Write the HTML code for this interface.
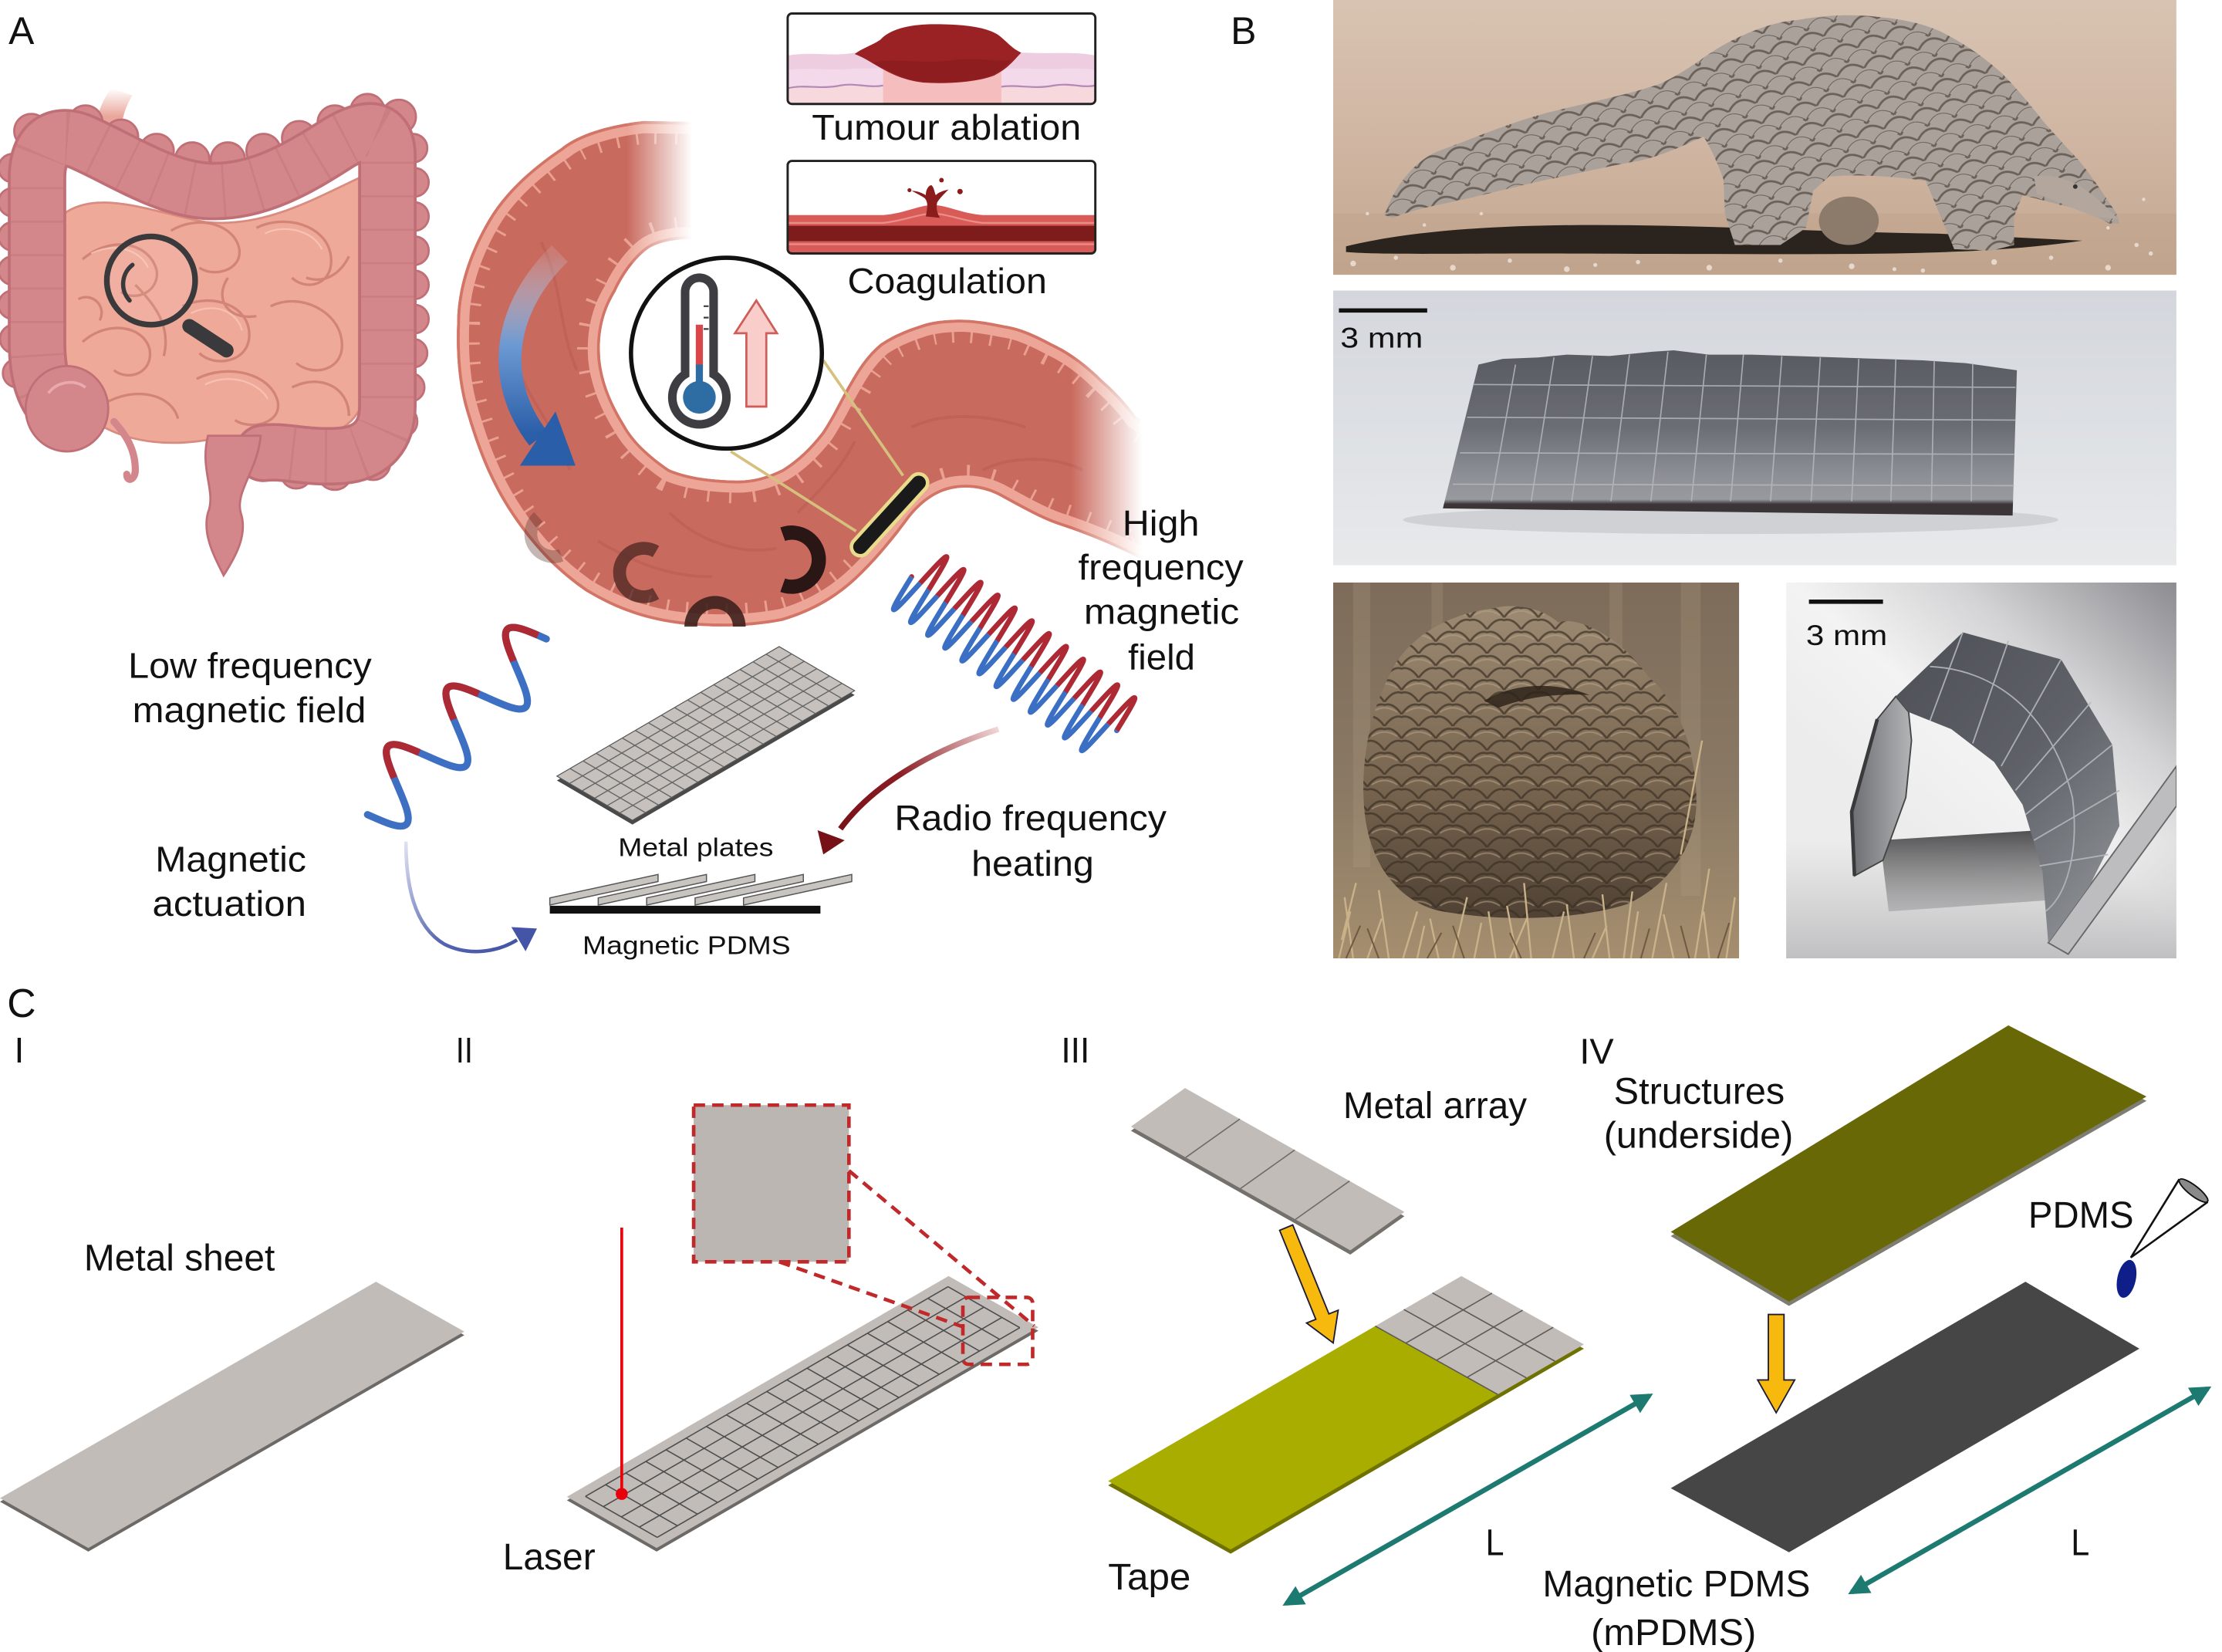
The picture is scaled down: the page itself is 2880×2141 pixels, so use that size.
<!DOCTYPE html>
<html><head><meta charset="utf-8"><style>html,body{margin:0;padding:0;background:#fff;}svg{display:block}</style></head>
<body>
<svg width="2880" height="2141" viewBox="0 0 1560 1160" preserveAspectRatio="none" xmlns="http://www.w3.org/2000/svg" font-family="'Liberation Sans', Arial, sans-serif">
<defs>
<path id="tubeShape" d="M 505,86 L 452,85 C 425,88 405,95 394,104 C 370,120 352,138 342,156 C 328,180 321,205 321,226 C 320,250 322,272 328,291 C 336,318 345,340 359,361 C 375,385 392,402 411,415 C 432,428 455,436 480,438.5 C 505,441 528,440 549,436 C 570,430 587,420 601,407 C 615,394 628,378 639,363 C 648,352 658,345 670,343 C 683,341 695,344 705,350 C 718,357 730,364 743,368.5 C 760,374 780,382 800,392 L 850,372 L 840,325 C 825,312 810,300 798,293 C 790,282 782,274 774,267 C 763,256 751,247 739,241.5 C 727,235 716,230 705,228.5 C 693,226 681,224 670,224.6 C 660,225 653,226 646,228.5 C 635,232 626,236 618,241.5 C 609,249 603,258 597.6,267.4 C 590,280 585,292 577,303.7 C 569,314 560,323 549,329.6 C 538,335 527,338 515,337.4 C 498,337 483,335 470,329.6 C 456,320 445,310 438.7,298.5 C 429,283 423,268 421.4,252 C 420,233 424,218 432,205 C 438,192 447,180 456,174 C 463,170 470,169 478,168 L 510,168 Z"/>
<clipPath id="tubeClip"><use href="#tubeShape"/></clipPath>
<linearGradient id="fadeTop" gradientUnits="userSpaceOnUse" x1="440" y1="0" x2="486" y2="0"><stop offset="0" stop-color="#fff" stop-opacity="0"/><stop offset="1" stop-color="#fff" stop-opacity="1"/></linearGradient>
<linearGradient id="fadeRight" gradientUnits="userSpaceOnUse" x1="752" y1="0" x2="802" y2="0"><stop offset="0" stop-color="#fff" stop-opacity="0"/><stop offset="1" stop-color="#fff" stop-opacity="1"/></linearGradient>
<linearGradient id="gBlueArr" gradientUnits="userSpaceOnUse" x1="0" y1="178" x2="0" y2="305"><stop offset="0" stop-color="#c9dcf2" stop-opacity="0.15"/><stop offset="0.5" stop-color="#6d9ad3"/><stop offset="1" stop-color="#2a5ea8"/></linearGradient>
<linearGradient id="gRF" gradientUnits="userSpaceOnUse" x1="701" y1="512" x2="585" y2="587"><stop offset="0" stop-color="#f2d6d6"/><stop offset="0.55" stop-color="#8a1c22"/><stop offset="1" stop-color="#761118"/></linearGradient>
<linearGradient id="gMA" gradientUnits="userSpaceOnUse" x1="285" y1="591" x2="365" y2="662"><stop offset="0" stop-color="#dfe2f3"/><stop offset="0.6" stop-color="#5565b0"/><stop offset="1" stop-color="#4454a6"/></linearGradient>
<linearGradient id="gEso" x1="0" y1="0" x2="0" y2="1"><stop offset="0" stop-color="#fff"/><stop offset="0.5" stop-color="#e9a69a"/></linearGradient>
<path id="coilP" d="M0,0 C1.25,13.65 2.39,26 3.75,26 S6.25,13.65 7.5,0 S9.89,-26 11.25,-26 S13.75,-13.65 15,0"/>
<clipPath id="clipNeg"><rect x="-20" y="-40" width="230" height="40"/></clipPath>
<clipPath id="clipPos"><rect x="-20" y="0" width="230" height="40"/></clipPath>
<marker id="tealHead" viewBox="0 0 10 10" refX="8" refY="5" markerWidth="4.2" markerHeight="4.2" orient="auto-start-reverse" markerUnits="strokeWidth"><path d="M0,0 L10,5 L0,10 Z" fill="#1d7a70"/></marker>
<clipPath id="cp1"><rect x="936" y="0" width="592" height="193"/></clipPath>
<clipPath id="cp2"><rect x="936" y="204" width="592" height="193"/></clipPath>
<clipPath id="cp3"><rect x="936" y="409" width="285" height="264"/></clipPath>
<clipPath id="cp4"><rect x="1254" y="409" width="274" height="264"/></clipPath>
<linearGradient id="g1bg" x1="0" y1="0" x2="0" y2="1"><stop offset="0" stop-color="#d8c3b2"/><stop offset="0.55" stop-color="#cfb5a1"/><stop offset="1" stop-color="#c2a690"/></linearGradient>
<pattern id="pscale" width="20" height="15" patternUnits="userSpaceOnUse" patternTransform="rotate(-18)">
<rect width="20" height="15" fill="#aaa19a"/>
<path d="M0,7.5 Q10,-3 20,7.5 M-10,15 Q0,4.5 10,15 M10,15 Q20,4.5 30,15" fill="none" stroke="#6b6159" stroke-width="1.5"/>
<path d="M2,6 Q10,-1 18,6" fill="none" stroke="#c9c1b9" stroke-width="1" opacity="0.7"/>
</pattern>
<linearGradient id="g2bg" x1="0" y1="0" x2="0" y2="1"><stop offset="0" stop-color="#d3d6dc"/><stop offset="0.5" stop-color="#dde0e4"/><stop offset="1" stop-color="#e8e9eb"/></linearGradient>
<linearGradient id="g2m" gradientUnits="userSpaceOnUse" x1="0" y1="248" x2="0" y2="362"><stop offset="0" stop-color="#595b62"/><stop offset="0.45" stop-color="#6b6d74"/><stop offset="0.75" stop-color="#8c8f95"/><stop offset="0.9" stop-color="#989aa0"/><stop offset="0.93" stop-color="#3b3537"/><stop offset="1" stop-color="#3b3537"/></linearGradient>
<linearGradient id="g3bg" x1="0" y1="0" x2="0" y2="1"><stop offset="0" stop-color="#7d6c5a"/><stop offset="0.55" stop-color="#8a7964"/><stop offset="1" stop-color="#a48e6e"/></linearGradient>
<linearGradient id="g3ball" x1="0" y1="0" x2="0" y2="1"><stop offset="0" stop-color="#9d8a73"/><stop offset="0.55" stop-color="#7a6751"/><stop offset="1" stop-color="#4f4134"/></linearGradient>
<pattern id="bscale" width="24" height="17" patternUnits="userSpaceOnUse">
<path d="M0,8.5 Q6,0 12,2 Q18,0 24,8.5 M-12,17 Q-6,8.5 0,10.5 Q6,8.5 12,17 M12,17 Q18,8.5 24,10.5 Q30,8.5 36,17" fill="none" stroke="#3c3024" stroke-width="1.5" opacity="0.7"/>
<path d="M3,7 Q12,1 21,7" fill="none" stroke="#b9a488" stroke-width="1" opacity="0.55"/>
</pattern>
<linearGradient id="g4bg" gradientUnits="userSpaceOnUse" x1="1528" y1="409" x2="1360" y2="600"><stop offset="0" stop-color="#8c8c90"/><stop offset="0.4" stop-color="#d3d3d5"/><stop offset="0.7" stop-color="#f3f3f3"/><stop offset="1" stop-color="#ececec"/></linearGradient>
<linearGradient id="g4bot" x1="0" y1="0" x2="0" y2="1"><stop offset="0" stop-color="#c6c6c8" stop-opacity="0"/><stop offset="1" stop-color="#c0c0c2" stop-opacity="1"/></linearGradient>
<linearGradient id="g4sh" x1="0" y1="0" x2="0" y2="1"><stop offset="0" stop-color="#3e3e40" stop-opacity="0.9"/><stop offset="1" stop-color="#6a6a6c" stop-opacity="0.3"/></linearGradient>
<linearGradient id="g4arch" gradientUnits="userSpaceOnUse" x1="1330" y1="470" x2="1490" y2="620"><stop offset="0" stop-color="#4f5258"/><stop offset="0.5" stop-color="#5e6167"/><stop offset="1" stop-color="#8a8d92"/></linearGradient>
<linearGradient id="g4leg" gradientUnits="userSpaceOnUse" x1="1300" y1="0" x2="1342" y2="0"><stop offset="0" stop-color="#6d6e72"/><stop offset="1" stop-color="#b3b4b6"/></linearGradient>
</defs>

<rect x="0" y="0" width="1560" height="1160" fill="#fff"/>

<!-- ================= PANEL A: whole-intestine illustration ================= -->
<path d="M 66,102 C 66,86 70,73 78,62 L 93,67 C 86,78 84,90 86,102 Z" fill="url(#gEso)"/>
<path d="M 45,150 C 70,132 110,150 145,156 C 185,160 220,140 252,125 L 252,288 C 245,302 225,310 200,310 C 175,312 160,306 145,309 C 120,313 95,311 75,301 C 55,291 45,270 45,245 Z" fill="#efa999" stroke="#d98b7f" stroke-width="1.5"/>
<g fill="none" stroke="#d28476" stroke-width="1.8">
<path d="M 58,182 C 78,165 105,170 110,190 C 112,205 95,212 85,205"/>
<path d="M 120,162 C 140,150 165,158 168,175 C 170,190 150,195 140,188"/>
<path d="M 180,160 C 200,150 228,158 232,178 C 236,200 215,205 205,195"/>
<path d="M 58,240 C 75,225 100,228 105,245 C 108,262 90,268 80,260"/>
<path d="M 128,215 C 150,205 175,215 175,235 C 175,255 150,258 140,248"/>
<path d="M 190,215 C 210,205 238,218 240,240 C 242,260 220,265 208,255"/>
<path d="M 68,287 C 90,270 120,275 125,294"/>
<path d="M 138,266 C 160,255 190,262 195,282 C 198,298 175,302 165,295"/>
<path d="M 205,272 C 225,262 245,272 245,292"/>
<path d="M 95,200 C 110,215 120,230 115,250"/>
<path d="M 160,195 C 150,210 160,225 180,222"/>
<path d="M 55,210 C 65,205 75,215 70,225"/>
<path d="M 215,195 C 230,200 240,190 245,180"/>
</g>
<g fill="none" stroke="#f8c8ba" stroke-width="1.2" opacity="0.8">
<path d="M 64,178 C 80,170 98,175 104,188"/>
<path d="M 186,164 C 200,157 220,162 226,175"/>
<path d="M 134,220 C 150,212 166,218 170,232"/>
<path d="M 144,270 C 160,262 180,267 188,280"/>
</g>
<path d="M 80,296 C 88,305 95,315 95,330 C 95,337 89,339 89,333" fill="none" stroke="#d3868b" stroke-width="5" stroke-linecap="round"/>
<g fill="#d4878b" stroke="#bf6f75" stroke-width="1.5">
<circle cx="60" cy="86" r="12"/><circle cx="85" cy="96" r="12"/><circle cx="110" cy="106" r="12"/><circle cx="135" cy="112" r="12"/><circle cx="160" cy="112" r="12"/><circle cx="185" cy="106" r="12"/><circle cx="210" cy="97" r="12"/><circle cx="235" cy="86" r="12"/><circle cx="258" cy="78" r="12"/><circle cx="280" cy="82" r="12"/>
<circle cx="22" cy="92" r="12"/>
<circle cx="9" cy="118" r="10"/><circle cx="9" cy="142" r="10"/><circle cx="9" cy="166" r="10"/><circle cx="9" cy="190" r="10"/><circle cx="9" cy="214" r="10"/><circle cx="10" cy="238" r="10"/><circle cx="12" cy="262" r="10"/>
<circle cx="290" cy="104" r="10"/><circle cx="291" cy="128" r="10"/><circle cx="291" cy="152" r="10"/><circle cx="291" cy="176" r="10"/><circle cx="291" cy="200" r="10"/><circle cx="291" cy="224" r="10"/><circle cx="290" cy="248" r="10"/><circle cx="288" cy="272" r="10"/><circle cx="282" cy="296" r="11"/><circle cx="262" cy="325" r="12"/><circle cx="235" cy="332" r="12"/><circle cx="208" cy="332" r="11"/>
</g>
<g fill="none" stroke-linecap="round" stroke-linejoin="round">
<path d="M 45,292 C 30,280 26,262 26,240 L 26,125 C 26,100 40,92 58,100 C 85,112 115,132 145,134 C 180,136 210,118 238,100 C 255,90 272,86 272,110 L 272,285 C 272,305 262,318 240,320 C 215,322 200,316 185,318" stroke="#bf6f75" stroke-width="41"/>
<path d="M 45,292 C 30,280 26,262 26,240 L 26,125 C 26,100 40,92 58,100 C 85,112 115,132 145,134 C 180,136 210,118 238,100 C 255,90 272,86 272,110 L 272,285 C 272,305 262,318 240,320 C 215,322 200,316 185,318" stroke="#d4878b" stroke-width="37"/>
<path d="M 45,292 C 30,280 26,262 26,240 L 26,125 C 26,100 40,92 58,100 C 85,112 115,132 145,134 C 180,136 210,118 238,100 C 255,90 272,86 272,110 L 272,285 C 272,305 262,318 240,320 C 215,322 200,316 185,318" stroke="#b9666d" stroke-width="37" stroke-dasharray="1.5 22" stroke-linecap="butt" opacity="0.3"/>
</g>
<ellipse cx="47" cy="287" rx="29" ry="30" fill="#d4878b" stroke="#bf6f75" stroke-width="1.5"/>
<path d="M 34,276 C 40,268 52,266 60,272" fill="none" stroke="#e9aaad" stroke-width="2"/>
<path d="M 146,306 C 140,330 152,345 146,360 C 142,375 150,390 157,404 C 166,390 174,375 169,360 C 165,345 181,330 183,306 Z" fill="#d4878b" stroke="#bf6f75" stroke-width="1.5"/>
<circle cx="106" cy="197" r="31" fill="#fff" fill-opacity="0.08" stroke="#3a3a3c" stroke-width="4"/>
<path d="M 91,211 A 17,17 0 0 1 93,186" fill="none" stroke="#3a3a3c" stroke-width="3" stroke-linecap="round"/>
<line x1="133" y1="229" x2="159" y2="246" stroke="#3a3a3c" stroke-width="10" stroke-linecap="round"/>

<!-- ================= PANEL A: tube ================= -->
<use href="#tubeShape" fill="#c96a5e"/>
<g clip-path="url(#tubeClip)">
<path d="M 360,250 C 370,280 390,300 400,330 M 380,170 C 395,200 392,230 405,260 M 470,360 C 490,380 520,390 545,385 M 640,300 C 660,290 690,290 720,300 M 690,330 C 710,320 740,320 760,330 M 420,380 C 445,395 470,405 500,405 M 560,360 C 575,345 590,330 600,310" fill="none" stroke="#b85a4f" stroke-width="2" opacity="0.5"/>
<use href="#tubeShape" fill="none" stroke="#e9a091" stroke-width="32" stroke-dasharray="1.6 13"/>
<use href="#tubeShape" fill="none" stroke="#eca596" stroke-width="17"/>
<use href="#tubeShape" fill="none" stroke="#d27466" stroke-width="4"/>
</g>
<path d="M 393,178 C 355,215 345,265 378,308" fill="none" stroke="url(#gBlueArr)" stroke-width="16"/>
<polygon points="390,289 404,327 365,327" fill="#2a5ea8"/>
<g fill="none">
<path d="M 378,363 A 16,16 0 0 0 394,390" stroke="#5a2e28" stroke-width="9" opacity="0.35"/>
<path d="M 460.5,387.3 A 17,17 0 1 0 460.5,416.7" stroke="#4a2622" stroke-width="9" opacity="0.75"/>
<path d="M 485,440 A 17,17 0 0 1 519,440" stroke="#3a1f1c" stroke-width="9" opacity="0.88"/>
<path d="M 549.5,375.1 A 19,19 0 1 1 549.5,410.9" stroke="#2a1614" stroke-width="10"/>
</g>
<rect x="432" y="76" width="90" height="109" fill="url(#fadeTop)"/>
<rect x="748" y="235" width="115" height="170" fill="url(#fadeRight)"/>

<line x1="578" y1="253" x2="634" y2="334" stroke="#d5c07e" stroke-width="2"/>
<line x1="513" y1="317" x2="601" y2="373" stroke="#d5c07e" stroke-width="2"/>
<line x1="645" y1="339" x2="604" y2="384" stroke="#e8dc8c" stroke-width="15" stroke-linecap="round"/>
<line x1="645" y1="339" x2="604" y2="384" stroke="#1a1a1a" stroke-width="10" stroke-linecap="round"/>

<circle cx="510" cy="248" r="67" fill="#fff" stroke="#111" stroke-width="3"/>
<rect x="478" y="192" width="26" height="82" rx="13" fill="#3d3d42"/>
<circle cx="491" cy="279" r="22" fill="#3d3d42"/>
<rect x="484" y="198" width="14" height="78" rx="7" fill="#fff"/>
<circle cx="491" cy="279" r="16" fill="#fff"/>
<circle cx="491" cy="279" r="11.5" fill="#2e6da4"/>
<rect x="488.5" y="228" width="5" height="30" fill="#d9474a"/>
<rect x="488.5" y="256" width="5" height="18" fill="#2e6da4"/>
<path d="M 494,215 H 497.5 M 494,223 H 497.5 M 494,231 H 497.5" stroke="#3d3d42" stroke-width="1.2"/>
<polygon points="524,285.5 524,234 516,234 531,211 545.5,234 538,234 538,285.5" fill="#f8cdca" stroke="#cf5e5a" stroke-width="1.5"/>

<!-- tumour ablation box -->
<clipPath id="cpTum"><rect x="553" y="9.5" width="216" height="63.5" rx="3"/></clipPath>
<g clip-path="url(#cpTum)">
<rect x="553" y="9.5" width="216" height="63.5" fill="#fff"/>
<path d="M 553,39 C 570,36 585,40 600,37 L 720,37 C 740,38 755,36 769,39 L 769,73 L 553,73 Z" fill="#efcde0"/>
<path d="M 553,49 C 570,47 585,50 600,48 L 720,48 C 740,49 755,47 769,49 L 769,73 L 553,73 Z" fill="#f3d9ea"/>
<path d="M 553,62 C 565,59 575,63 590,60 C 600,58 610,62 620,60 M 702,61 C 715,59 725,63 740,60 C 752,58 760,62 769,60" fill="none" stroke="#b588b3" stroke-width="1.2"/>
<path d="M 553,63 C 565,60 575,64 590,61 C 600,59 610,63 620,61 L 702,62 C 715,60 725,64 740,61 C 752,59 760,63 769,61 L 769,73 L 553,73 Z" fill="#f7d8dc"/>
<path d="M 620,40 L 703,40 L 703,73 L 620,73 Z" fill="#f5bdbd"/>
<path d="M 600,38 C 605,34 612,32 618,28 C 625,20 640,17 656,17 C 672,17 690,18 700,24 C 706,28 710,34 717,37 C 712,42 708,48 698,53 C 685,58 665,59 648,58 C 632,56 622,50 612,44 C 607,41 603,39 600,38 Z" fill="#9b2224"/>
<path d="M 612,44 C 630,40 650,46 670,42 C 690,40 700,44 710,42 C 706,48 698,53 690,55 C 670,59 650,59 635,55 Z" fill="#861a1c" opacity="0.6"/>
</g>
<rect x="553" y="9.5" width="216" height="63.5" rx="3" fill="none" stroke="#222" stroke-width="1.6"/>
<!-- coagulation box -->
<clipPath id="cpCoag"><rect x="553" y="113" width="216" height="65" rx="3"/></clipPath>
<g clip-path="url(#cpCoag)">
<rect x="553" y="113" width="216" height="65" fill="#fff"/>
<path d="M 553,151 L 620,151 C 635,150 645,144 655,144 C 665,144 675,150 690,151 L 769,151 L 769,159 L 553,159 Z" fill="#d85b58"/>
<path d="M 553,156.5 L 620,156.5 C 635,155 645,150 655,150 C 665,150 675,155 690,156.5 L 769,156.5" fill="none" stroke="#ea8e87" stroke-width="1.2"/>
<rect x="553" y="158.5" width="216" height="11" fill="#7e1c1c"/>
<rect x="553" y="169.5" width="216" height="9" fill="#d85b58"/>
<line x1="553" y1="171.5" x2="769" y2="171.5" stroke="#ea8e87" stroke-width="1.2"/>
<path d="M 650,152 C 651,146 652,142 649,139 C 646,137 642,135 640,134 C 645,134 648,136 650,137 C 650,133 652,130 654,130 C 656,132 656,135 657,137 C 659,135 662,134 666,133 C 663,136 660,139 658,142 C 657,146 658,150 660,153 Z" fill="#8b1c1c"/>
<circle cx="661" cy="126.5" r="1.6" fill="#8b1c1c"/><circle cx="674" cy="134.5" r="1.9" fill="#8b1c1c"/><circle cx="638.5" cy="133.5" r="1.4" fill="#8b1c1c"/>
</g>
<rect x="553" y="113" width="216" height="65" rx="3" fill="none" stroke="#222" stroke-width="1.6"/>

<!-- low-frequency wave -->
<g transform="translate(258,572) rotate(-44.5)" fill="none" stroke-width="5" stroke-linecap="round">
<path d="M0,0 C4.9,12.6 9.34,24 14.67,24 S24.44,12.6 29.33,0 S38.67,-24 44,-24 S53.77,-12.6 58.67,0 S68,24 73.33,24 S83.1,12.6 88,0 S97.33,-24 102.67,-24 S112.43,-12.6 117.33,0 S126.67,24 132,24 S141.77,12.6 146.67,0 S156,-24 161.33,-24 S171.1,-12.6 176,0" stroke="#3d70c2"/>
<path pathLength="12" stroke-dasharray="1.6 2.4" stroke-dashoffset="1.8" stroke-linecap="butt" d="M0,0 C4.9,12.6 9.34,24 14.67,24 S24.44,12.6 29.33,0 S38.67,-24 44,-24 S53.77,-12.6 58.67,0 S68,24 73.33,24 S83.1,12.6 88,0 S97.33,-24 102.67,-24 S112.43,-12.6 117.33,0 S126.67,24 132,24 S141.77,12.6 146.67,0 S156,-24 161.33,-24 S171.1,-12.6 176,0" stroke="#ad2a35"/>
</g>
<!-- high-frequency coil -->
<g transform="translate(640,405) rotate(36.87)" fill="none" stroke-width="3.6" stroke-linecap="round">
<g clip-path="url(#clipNeg)" stroke="#ad2a35">
<use href="#coilP" x="0"/><use href="#coilP" x="15"/><use href="#coilP" x="30"/><use href="#coilP" x="45"/><use href="#coilP" x="60"/><use href="#coilP" x="75"/><use href="#coilP" x="90"/><use href="#coilP" x="105"/><use href="#coilP" x="120"/><use href="#coilP" x="135"/><use href="#coilP" x="150"/><use href="#coilP" x="165"/>
</g>
<g clip-path="url(#clipPos)" stroke="#3b6fc4">
<use href="#coilP" x="0"/><use href="#coilP" x="15"/><use href="#coilP" x="30"/><use href="#coilP" x="45"/><use href="#coilP" x="60"/><use href="#coilP" x="75"/><use href="#coilP" x="90"/><use href="#coilP" x="105"/><use href="#coilP" x="120"/><use href="#coilP" x="135"/><use href="#coilP" x="150"/><use href="#coilP" x="165"/>
</g>
</g>
<!-- arrows -->
<path d="M 701,512 C 660,525 615,548 590,582" fill="none" stroke="url(#gRF)" stroke-width="4"/>
<polygon points="578,600 574,583 593,590" fill="#761118"/>
<path d="M 285,591 C 285,620 290,650 312,663 C 330,672 350,668 363,660" fill="none" stroke="url(#gMA)" stroke-width="2.5"/>
<polygon points="377,652 359,651 369,668" fill="#4454a6"/>

<!-- metal plates grid (iso) -->
<g transform="matrix(156,-91,53,31,391,548)"><rect x="0" y="0" width="1" height="1" fill="#4a4a4a"/></g>
<g transform="matrix(156,-91,53,31,391,545)">
<rect x="0" y="0" width="1" height="1" fill="#c6c1bd" stroke="#555" stroke-width="1.2" vector-effect="non-scaling-stroke"/>
<path vector-effect="non-scaling-stroke" stroke="#666" stroke-width="1.4" fill="none" d="M0.0588,0 V1 M0.1176,0 V1 M0.1765,0 V1 M0.2353,0 V1 M0.2941,0 V1 M0.3529,0 V1 M0.4118,0 V1 M0.4706,0 V1 M0.5294,0 V1 M0.5882,0 V1 M0.6471,0 V1 M0.7059,0 V1 M0.7647,0 V1 M0.8235,0 V1 M0.8824,0 V1 M0.9412,0 V1 M0,0.1667 H1 M0,0.3333 H1 M0,0.5 H1 M0,0.6667 H1 M0,0.8333 H1"/>
</g>
<!-- side-view plates -->
<rect x="386" y="636" width="190" height="5.5" fill="#111"/>
<g fill="#c8c4c0" stroke="#555" stroke-width="0.8">
<polygon points="386,630.5 462,614 462,619 386,635.5"/>
<polygon points="420,630.5 496,614 496,619 420,635.5"/>
<polygon points="454,630.5 530,614 530,619 454,635.5"/>
<polygon points="488,630.5 564,614 564,619 488,635.5"/>
<polygon points="522,630.5 598,614 598,619 522,635.5"/>
</g>

<!-- Panel A text -->
<g fill="#111">
<text x="6" y="31" font-size="27">A</text>
<text x="864" y="31" font-size="27">B</text>
<text x="570" y="98" font-size="25" textLength="189" lengthAdjust="spacingAndGlyphs">Tumour ablation</text>
<text x="595" y="206" font-size="25" textLength="140" lengthAdjust="spacingAndGlyphs">Coagulation</text>
<text x="90" y="476" font-size="25" textLength="171" lengthAdjust="spacingAndGlyphs">Low frequency</text>
<text x="93" y="507" font-size="25" textLength="164" lengthAdjust="spacingAndGlyphs">magnetic field</text>
<text x="788" y="376" font-size="25" textLength="54" lengthAdjust="spacingAndGlyphs">High</text>
<text x="757" y="407" font-size="25" textLength="116" lengthAdjust="spacingAndGlyphs">frequency</text>
<text x="761" y="438" font-size="25" textLength="109" lengthAdjust="spacingAndGlyphs">magnetic</text>
<text x="792" y="470" font-size="25" textLength="47" lengthAdjust="spacingAndGlyphs">field</text>
<text x="628" y="583" font-size="25" textLength="191" lengthAdjust="spacingAndGlyphs">Radio frequency</text>
<text x="682" y="615" font-size="25" textLength="86" lengthAdjust="spacingAndGlyphs">heating</text>
<text x="109" y="612" font-size="25" textLength="106" lengthAdjust="spacingAndGlyphs">Magnetic</text>
<text x="107" y="643" font-size="25" textLength="108" lengthAdjust="spacingAndGlyphs">actuation</text>
<text x="434" y="601" font-size="18" textLength="109" lengthAdjust="spacingAndGlyphs">Metal plates</text>
<text x="409" y="670" font-size="18" textLength="146" lengthAdjust="spacingAndGlyphs">Magnetic PDMS</text>
</g>

<!-- ================= PANEL B photos ================= -->
<g clip-path="url(#cp1)">
<rect x="936" y="0" width="592" height="193" fill="url(#g1bg)"/>
<rect x="936" y="150" width="592" height="43" fill="#bfa28a" opacity="0.45"/>
<path d="M 945,173 C 990,162 1050,158 1120,158 C 1200,158 1280,163 1360,164 L 1462,169 C 1420,175 1380,177 1330,178 C 1250,179 1150,178 1080,178 C 1020,178 970,179 945,177 Z" fill="#2a231e"/>
<g fill="#e6d8cc"><circle cx="950" cy="185" r="2"/><circle cx="980" cy="181" r="1.5"/><circle cx="1020" cy="188" r="2"/><circle cx="1060" cy="183" r="1.5"/><circle cx="1100" cy="189" r="2"/><circle cx="1150" cy="184" r="1.5"/><circle cx="1200" cy="188" r="2"/><circle cx="1250" cy="183" r="1.5"/><circle cx="1300" cy="187" r="2"/><circle cx="1350" cy="190" r="1.5"/><circle cx="1400" cy="184" r="2"/><circle cx="1440" cy="181" r="1.5"/><circle cx="1480" cy="188" r="2"/><circle cx="1510" cy="178" r="1.5"/><circle cx="960" cy="150" r="1.2"/><circle cx="1000" cy="158" r="1.2"/><circle cx="1480" cy="160" r="1.2"/><circle cx="1505" cy="140" r="1.2"/><circle cx="1040" cy="150" r="1.2"/><circle cx="1500" cy="172" r="1.5"/><circle cx="1120" cy="186" r="1.4"/><circle cx="1330" cy="189" r="1.4"/></g>
<path d="M 972,151 C 980,128 995,112 1010,106 C 1035,97 1060,86 1087,79 C 1115,72 1145,66 1165,59 C 1185,50 1198,38 1211,31 C 1232,20 1248,15 1262,14 C 1285,10 1302,10 1320,12 C 1340,14 1355,18 1366,24 C 1385,34 1397,44 1405,51 C 1418,64 1428,77 1436,87 C 1447,99 1454,107 1459,112 C 1469,124 1478,138 1486,150 L 1488,157 L 1481,157 C 1470,151 1458,146 1447,144 C 1436,141 1427,139 1420,137 L 1414,152 L 1414,172 L 1398,176 L 1372,175 L 1365,158 L 1352,127 C 1332,124 1305,122 1284,124 L 1273,134 L 1268,160 L 1250,172 L 1218,172 L 1211,150 L 1210,126 C 1205,112 1200,102 1196,96 C 1178,104 1165,110 1150,113 C 1122,118 1103,123 1087,126 C 1060,132 1030,140 1009,144 C 995,147 985,150 978,153 Z" fill="url(#pscale)"/>
<ellipse cx="1298" cy="155" rx="21" ry="17" fill="#8c7a6a"/>
<path d="M 1428,124 C 1450,120 1470,135 1487,154 L 1470,152 C 1455,146 1440,140 1430,136 Z" fill="#b3a79d"/>
<circle cx="1457" cy="131" r="1.6" fill="#333"/>
</g>

<g clip-path="url(#cp2)">
<rect x="936" y="204" width="592" height="193" fill="url(#g2bg)"/>
<ellipse cx="1215" cy="365" rx="230" ry="10" fill="#b9bcc2" opacity="0.5"/>
<path d="M 1038,256 L 1055,252 L 1080,251 L 1100,249 L 1130,250 L 1160,247 L 1175,246 L 1200,249 L 1230,249 L 1260,250 L 1290,251 L 1320,252 L 1350,253 L 1380,255 L 1416,260 L 1413,362 L 1013,357 Z" fill="url(#g2m)"/>
<path d="M 1064,256 L 1047,352 M 1091,251 L 1075,352 M 1118,250 L 1103.5,352 M 1144,249 L 1131,352 M 1171,247 L 1159,352 M 1198,249 L 1187.5,352 M 1224,249 L 1215,352 M 1251,250 L 1243,352 M 1278,251 L 1271.5,352 M 1305,252 L 1300,352 M 1331,252 L 1327.5,352 M 1358,253 L 1356,352 M 1385,255 L 1384,352 M 1034,270 L 1415,272 M 1030,293 L 1415,295 M 1025,318 L 1414,319 M 1020,340 L 1414,341" stroke="#b5b8bd" stroke-width="0.9" opacity="0.85" fill="none"/>
<rect x="940" y="216.5" width="62" height="3" fill="#111"/>
<text x="941" y="244" font-size="20" fill="#111" textLength="58" lengthAdjust="spacingAndGlyphs">3 mm</text>
</g>

<g clip-path="url(#cp3)">
<rect x="936" y="409" width="285" height="264" fill="url(#g3bg)"/>
<g fill="#b4a38a" opacity="0.22"><rect x="950" y="409" width="12" height="200"/><rect x="1005" y="409" width="8" height="180"/><rect x="1180" y="409" width="14" height="220"/><rect x="1130" y="409" width="9" height="80"/></g>
<path d="M 1049,427 C 1010,432 985,452 975,475 C 960,505 955,540 958,570 C 962,610 985,635 1013,640 C 1060,648 1110,645 1142,635 C 1175,620 1192,590 1191,560 C 1190,520 1175,490 1158,476 C 1140,450 1110,432 1094,437 C 1080,425 1060,424 1049,427 Z" fill="url(#g3ball)"/>
<path d="M 1049,427 C 1010,432 985,452 975,475 C 960,505 955,540 958,570 C 962,610 985,635 1013,640 C 1060,648 1110,645 1142,635 C 1175,620 1192,590 1191,560 C 1190,520 1175,490 1158,476 C 1140,450 1110,432 1094,437 C 1080,425 1060,424 1049,427 Z" fill="url(#bscale)"/>
<path d="M 1042,492 C 1062,480 1090,478 1116,488 C 1098,487 1075,488 1052,497 Z" fill="#2e241a" opacity="0.85"/>
<g fill="none" stroke="#c9b28a" stroke-width="1.3">
<path d="M940,673 L948,640 M950,673 L944,630 M960,673 L970,645 M975,673 L968,625 M985,673 L995,640 M995,673 L1000,650 M1010,673 L1004,645 M1020,673 L1030,630 M1035,673 L1040,648 M1050,673 L1045,640 M1060,673 L1072,645 M1075,673 L1070,620 M1090,673 L1098,640 M1105,673 L1100,635 M1118,673 L1128,650 M1130,673 L1125,628 M1145,673 L1150,640 M1160,673 L1170,620 M1175,673 L1168,642 M1190,673 L1200,610 M1200,673 L1196,640 M1212,673 L1218,630 M1180,600 L1195,520 M942,660 L952,620 M1065,673 L1058,636 M1140,673 L1146,626"/>
</g>
<g fill="none" stroke="#6e5a42" stroke-width="1.1">
<path d="M945,673 L955,650 M968,673 L960,652 M1002,673 L1012,655 M1028,673 L1020,650 M1068,673 L1060,655 M1112,673 L1120,655 M1152,673 L1158,652 M1186,673 L1180,650 M1206,673 L1214,648"/>
</g>
</g>

<g clip-path="url(#cp4)">
<rect x="1254" y="409" width="274" height="264" fill="url(#g4bg)"/>
<rect x="1254" y="590" width="274" height="83" fill="url(#g4bot)"/>
<polygon points="1320,590 1432,583 1440,632 1326,640" fill="url(#g4sh)"/>
<polygon points="1438,662 1528,538 1528,566 1452,670" fill="#bdbdc0" stroke="#666" stroke-width="1"/>
<polygon points="1331,489 1318,505 1300,570 1302,615 1322,604 1338,560 1342,520 1340,500" fill="url(#g4leg)" stroke="#444" stroke-width="1"/>
<path d="M 1318,505 L 1300,570 L 1302,615" fill="none" stroke="#3a3a3c" stroke-width="2.5"/>
<polygon points="1331,489 1378,444 1447,463 1483,523 1488,580 1467,622 1438,662 1434,612 1420,565 1400,535 1370,512 1340,500" fill="url(#g4arch)"/>
<path d="M 1378,444 L 1355,506 M 1410,450 L 1385,522 M 1447,463 L 1405,538 M 1468,493 L 1415,555 M 1483,523 L 1422,572 M 1488,555 L 1428,590 M 1480,600 L 1432,608 M 1355,468 C 1400,470 1440,500 1455,560 C 1460,600 1450,630 1436,640" fill="none" stroke="#b4b7bc" stroke-width="1" opacity="0.9"/>
<rect x="1270" y="421" width="52" height="3" fill="#111"/>
<text x="1268" y="453" font-size="20" fill="#111" textLength="57" lengthAdjust="spacingAndGlyphs">3 mm</text>
</g>

<!-- ================= PANEL C ================= -->
<g fill="#111">
<text x="5" y="714" font-size="28">C</text>
<text x="10" y="746" font-size="25">I</text>
<text x="320" y="746" font-size="25" textLength="12" lengthAdjust="spacingAndGlyphs">II</text>
<text x="745" y="746" font-size="25" textLength="20" lengthAdjust="spacingAndGlyphs">III</text>
<text x="1109" y="747" font-size="25" textLength="24" lengthAdjust="spacingAndGlyphs">IV</text>
<text x="59" y="892" font-size="26" textLength="134" lengthAdjust="spacingAndGlyphs">Metal sheet</text>
<text x="353" y="1102" font-size="26" textLength="65" lengthAdjust="spacingAndGlyphs">Laser</text>
<text x="943" y="785" font-size="26" textLength="129" lengthAdjust="spacingAndGlyphs">Metal array</text>
<text x="1133" y="775" font-size="26" textLength="120" lengthAdjust="spacingAndGlyphs">Structures</text>
<text x="1126" y="806" font-size="26" textLength="133" lengthAdjust="spacingAndGlyphs">(underside)</text>
<text x="1424" y="862" font-size="26" textLength="74" lengthAdjust="spacingAndGlyphs">PDMS</text>
<text x="778" y="1116" font-size="26" textLength="58" lengthAdjust="spacingAndGlyphs">Tape</text>
<text x="1043" y="1092" font-size="26" textLength="13" lengthAdjust="spacingAndGlyphs">L</text>
<text x="1454" y="1092" font-size="26" textLength="13" lengthAdjust="spacingAndGlyphs">L</text>
<text x="1083" y="1121" font-size="26" textLength="188" lengthAdjust="spacingAndGlyphs">Magnetic PDMS</text>
<text x="1117" y="1155" font-size="26" textLength="116" lengthAdjust="spacingAndGlyphs">(mPDMS)</text>
</g>

<!-- I: metal sheet -->
<g transform="matrix(264,-152,62,35,0,1054.5)"><rect x="0" y="0" width="1" height="1" fill="#6d6966"/></g>
<g transform="matrix(264,-152,62,35,0,1052)"><rect x="0" y="0" width="1" height="1" fill="#c1bcb8"/></g>

<!-- II: laser cut sheet -->
<g transform="matrix(268,-155,63,36,398,1053.5)"><rect x="0" y="0" width="1" height="1" fill="#6d6966"/></g>
<g transform="matrix(268,-155,63,36,398,1051)">
<rect x="0" y="0" width="1" height="1" fill="#c1bcb8"/>
<path vector-effect="non-scaling-stroke" stroke="#4e4e4e" stroke-width="1.6" fill="none" d="M0.025,0.1 H0.975 M0.025,0.3 H0.975 M0.025,0.5 H0.975 M0.025,0.7 H0.975 M0.025,0.9 H0.975 M0.025,0.1 V0.9 M0.0778,0.1 V0.9 M0.1306,0.1 V0.9 M0.1833,0.1 V0.9 M0.2361,0.1 V0.9 M0.2889,0.1 V0.9 M0.3417,0.1 V0.9 M0.3944,0.1 V0.9 M0.4472,0.1 V0.9 M0.5,0.1 V0.9 M0.5528,0.1 V0.9 M0.6056,0.1 V0.9 M0.6583,0.1 V0.9 M0.7111,0.1 V0.9 M0.7639,0.1 V0.9 M0.8167,0.1 V0.9 M0.8694,0.1 V0.9 M0.9222,0.1 V0.9 M0.975,0.1 V0.9"/>
</g>
<line x1="436.5" y1="862" x2="436.5" y2="1048" stroke="#e8000b" stroke-width="2"/>
<circle cx="436.5" cy="1049" r="4.2" fill="#e8000b"/>
<rect x="487" y="776" width="109" height="110" fill="#bcb6b2" stroke="#c0282a" stroke-width="2.5" stroke-dasharray="8 5"/>
<rect x="676" y="911" width="49" height="47" rx="4" fill="none" stroke="#c0282a" stroke-width="2.5" stroke-dasharray="8 5"/>
<line x1="596" y1="822" x2="726" y2="931" stroke="#c0282a" stroke-width="2.5" stroke-dasharray="8 5"/>
<line x1="547" y1="886" x2="677" y2="932" stroke="#c0282a" stroke-width="2.5" stroke-dasharray="8 5"/>

<!-- III -->
<g transform="matrix(154,87,-38,27,832,767)"><rect x="0" y="0" width="1" height="1" fill="#74706c"/></g>
<g transform="matrix(154,87,-38,27,832,764)">
<rect x="0" y="0" width="1" height="1" fill="#c1bcb8"/>
<path vector-effect="non-scaling-stroke" stroke="#6e6a66" stroke-width="1.6" fill="none" d="M0.25,0 V1 M0.5,0 V1 M0.75,0 V1"/>
</g>
<g transform="matrix(248,-144,86,48,778,1043)"><rect x="0" y="0" width="1" height="1" fill="#6f7200"/></g>
<g transform="matrix(248,-144,86,48,778,1040)">
<rect x="0" y="0" width="0.756" height="1" fill="#a9ad00"/>
<rect x="0.756" y="0" width="0.244" height="1" fill="#c1bcb8"/>
<path vector-effect="non-scaling-stroke" stroke="#5e5a57" stroke-width="1.6" fill="none" d="M0.756,0 V1 M0.837,0 V1 M0.918,0 V1 M0.756,0.25 H1 M0.756,0.5 H1 M0.756,0.75 H1"/>
</g>
<polygon points="907.6,860.1 933,922.6 939.5,920 936,943 917.3,929 923.8,926.4 898.4,863.9" fill="#f7b90d" stroke="#1c1c3a" stroke-width="1"/>
<line x1="903" y1="1126" x2="1158" y2="980" stroke="#1d7a70" stroke-width="3.5" marker-start="url(#tealHead)" marker-end="url(#tealHead)"/>

<!-- IV -->
<polygon points="1173,868 1410,723 1507,773 1256,917" fill="#7d7d72"/>
<polygon points="1173,865 1410,720 1507,770 1256,914" fill="#686806"/>
<polygon points="1241.5,923 1252.5,923 1252.5,969 1260,969 1247,992 1234,969 1241.5,969" fill="#f7b90d" stroke="#1c1c3a" stroke-width="1"/>
<polygon points="1173,1045 1422,900 1502,947 1256,1090" fill="#464646"/>
<line x1="1300" y1="1118" x2="1550" y2="975" stroke="#1d7a70" stroke-width="3.5" marker-start="url(#tealHead)" marker-end="url(#tealHead)"/>
<path d="M 1530,828 L 1496,883 L 1550,844" fill="none" stroke="#111" stroke-width="1.4"/>
<ellipse cx="1540" cy="836" rx="12.5" ry="3.5" transform="rotate(38 1540 836)" fill="#8a8a8a" stroke="#111" stroke-width="1"/>
<ellipse cx="1493" cy="898" rx="6.5" ry="13.5" transform="rotate(12 1493 898)" fill="#0f1f8a"/>
</svg>
</body></html>
